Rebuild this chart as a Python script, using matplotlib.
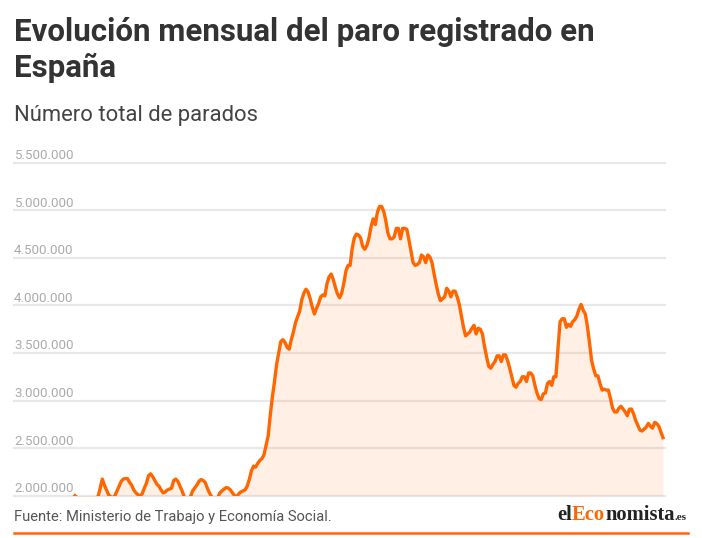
import numpy as np
import matplotlib
matplotlib.use("Agg")
import matplotlib.pyplot as plt
import matplotlib.transforms as mtransforms

# Paro registrado mensual (miles de personas), enero 2001 - mayo 2024
paro_2001_2007 = [
    2000, 1980, 1960, 1940, 1930, 1920, 1920, 1930, 1950, 1960, 1980, 1990,
    2080, 2175, 2110, 2060, 2010, 1990, 1980, 2000, 2050, 2100, 2150, 2175,
    2180, 2180, 2140, 2110, 2060, 2030, 2010, 2000, 2020, 2080, 2130, 2210,
    2230, 2200, 2160, 2120, 2100, 2060, 2030, 2040, 2060, 2070, 2080, 2160,
    2175, 2150, 2100, 2050, 1990, 1960, 1960, 1990, 2050, 2080, 2110, 2150,
    2170, 2160, 2140, 2080, 2030, 1990, 1960, 1960, 1980, 2030, 2050, 2070,
    2085, 2080, 2060, 2030, 2000, 1990, 2020, 2040, 2050, 2060, 2100, 2170,
]
paro_2008_2013 = [
    2260, 2310, 2300, 2340, 2370, 2390, 2430, 2530, 2630, 2850, 3040, 3200,
    3380, 3500, 3620, 3640, 3610, 3560, 3540, 3640, 3720, 3820, 3880, 3940,
    4060, 4130, 4170, 4140, 4070, 3980, 3910, 3970, 4020, 4090, 4110, 4100,
    4230, 4300, 4330, 4270, 4190, 4120, 4080, 4130, 4230, 4360, 4420, 4420,
    4600, 4710, 4750, 4740, 4710, 4620, 4590, 4630, 4710, 4830, 4910, 4850,
    4980, 5040, 5040, 4990, 4890, 4760, 4700, 4700, 4720, 4810, 4810, 4700,
]
paro_2014_2019 = [
    4810, 4810, 4800, 4690, 4570, 4450, 4420, 4430, 4450, 4530, 4510, 4450,
    4530, 4510, 4450, 4330, 4220, 4120, 4050, 4070, 4090, 4180, 4150, 4090,
    4150, 4150, 4090, 4010, 3890, 3770, 3680, 3700, 3720, 3760, 3790, 3700,
    3760, 3750, 3700, 3570, 3460, 3360, 3340, 3380, 3410, 3470, 3470, 3410,
    3480, 3480, 3420, 3340, 3250, 3160, 3140, 3180, 3200, 3250, 3250, 3200,
    3290, 3290, 3260, 3160, 3080, 3020, 3010, 3070, 3080, 3180, 3200, 3160,
]
paro_2020_2024 = [
    3250, 3250, 3550, 3830, 3860, 3860, 3770, 3800, 3780, 3830, 3850, 3890,
    3960, 4010, 3950, 3910, 3780, 3610, 3420, 3330, 3260, 3260, 3180, 3110,
    3120, 3110, 3110, 3020, 2920, 2880, 2880, 2920, 2940, 2910, 2880, 2840,
    2910, 2910, 2860, 2790, 2740, 2690, 2680, 2700, 2720, 2760, 2730, 2710,
    2770, 2760, 2730, 2670, 2610,
]

y_ticks = [2000000, 2500000, 3000000, 3500000, 4000000, 4500000, 5000000, 5500000]

titulo = "Evolución mensual del paro registrado en\nEspaña"
subtitulo = "Número total de parados"
fuente = "Fuente: Ministerio de Trabajo y Economía Social."

paro = np.array(paro_2001_2007 + paro_2008_2013 + paro_2014_2019 + paro_2020_2024) * 1000
meses = np.arange(len(paro))

naranja = "#ff6600"
W, H = 702, 538

def fx(px):
    return px / W

def fy(py):
    return 1 - py / H

fig = plt.figure(figsize=(W / 100, H / 100), dpi=100)
fig.patch.set_facecolor("white")

# ejes: lineas de rejilla de x=14 a 665, datos de x=75 a 663
ax = fig.add_axes([fx(14), fy(495.7), fx(665) - fx(14), fy(162.7) - fy(495.7)])
px_mes = (663 - 75) / (len(paro) - 1)
ax.set_xlim(-(75 - 14) / px_mes, (len(paro) - 1) + (665 - 663) / px_mes)
ax.set_ylim(y_ticks[0], y_ticks[-1])
ax.axis("off")

trans = mtransforms.blended_transform_factory(ax.transAxes, ax.transData)
for v in y_ticks:
    ax.axhline(v, color="#e8e8e8", lw=1.6, zorder=1, clip_on=False)
    ax.annotate(f"{v:,}".replace(",", "."), xy=(0, v), xycoords=trans,
                xytext=(0, 3.5), textcoords="offset pixels",
                ha="left", va="baseline", fontsize=9.6, color="#ababab",
                family="Roboto")

ax.fill_between(meses, paro, y_ticks[0], color=naranja, alpha=0.1, lw=0, zorder=2)
ax.plot(meses, paro, color=naranja, lw=2.4, zorder=3, solid_joinstyle="round")

# textos (va='baseline' en multilinea se alinea con la ultima linea)
fig.text(fx(14), fy(76.7), titulo, ha="left", va="baseline", fontsize=22.5,
         fontweight="bold", color="#333333", family="Roboto", linespacing=1.22)
fig.text(fx(14), fy(121), subtitulo, ha="left", va="baseline", fontsize=15.8,
         color="#444444", family="Roboto")
fig.text(fx(14), fy(521), fuente, ha="left", va="baseline", fontsize=10.6,
         color="#555555", family="Roboto")

# logo
fig.canvas.draw()
r = fig.canvas.get_renderer()
x = 557
partes = [("el", "#222222", 14.8), ("Eco", naranja, 14.8), ("nomista", "#222222", 14.8), (".es", "#222222", 8)]
for txt, col, fs in partes:
    t = fig.text(fx(x), fy(520.5), txt, ha="left", va="baseline", fontsize=fs,
                 fontweight="bold", color=col, family="Liberation Serif")
    bb = t.get_window_extent(renderer=r)
    x += bb.width

fig.add_artist(plt.Line2D([fx(14), fx(688)], [fy(533.3), fy(533.3)], color=naranja, lw=1.8))

fig.savefig("out.png", dpi=100)
